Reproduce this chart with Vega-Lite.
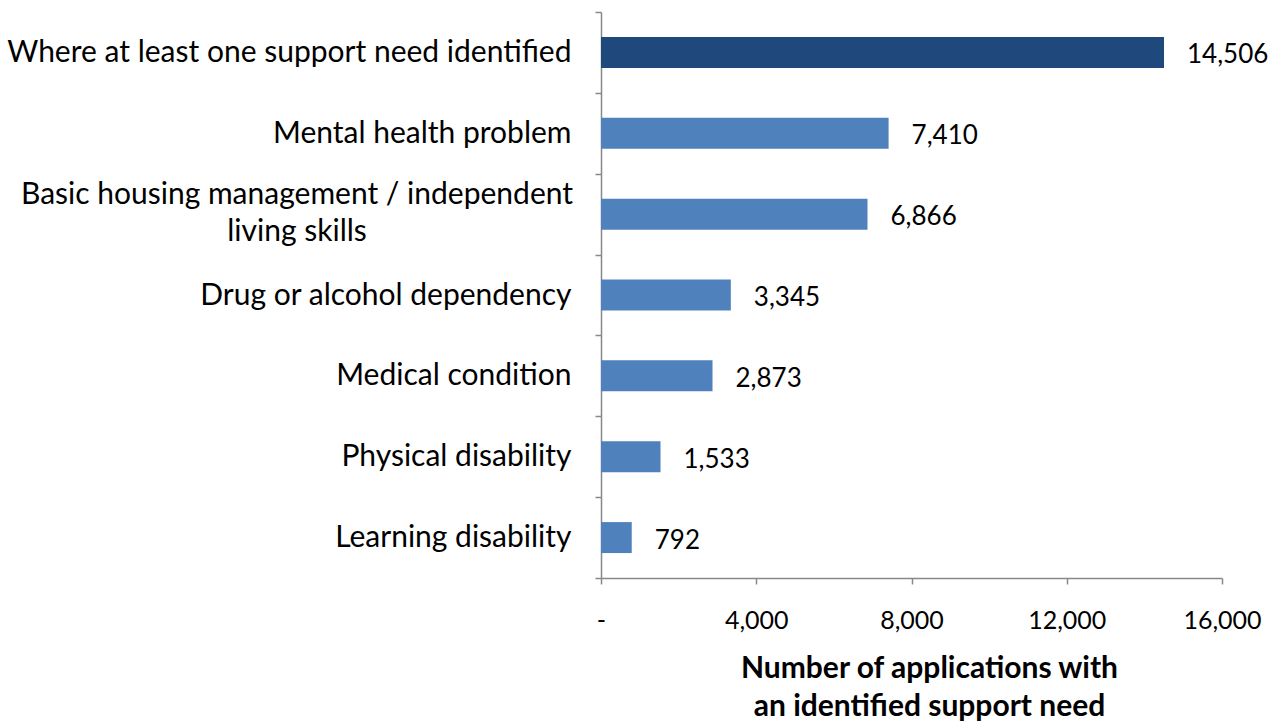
{
  "$schema": "https://vega.github.io/schema/vega-lite/v6.json",
  "width": 621,
  "height": 566,
  "autosize": "none",
  "padding": {"left": 601, "top": 12, "right": 58, "bottom": 144},
  "background": "white",
  "config": {
    "view": {"stroke": null},
    "font": "Lato",
    "axis": {
      "domainColor": "#888888",
      "tickColor": "#888888",
      "domainWidth": 1.5,
      "tickWidth": 1.5,
      "grid": false,
      "labelColor": "#000000",
      "labelFont": "Lato",
      "titleFont": "Lato",
      "titleColor": "#000000"
    }
  },
  "data": {
    "values": [
      {"category": "Where at least one support need identified", "value": 14506, "group": "total"},
      {"category": "Mental health problem", "value": 7410, "group": "need"},
      {"category": "Basic housing management / independent|living skills", "value": 6866, "group": "need"},
      {"category": "Drug or alcohol dependency", "value": 3345, "group": "need"},
      {"category": "Medical condition", "value": 2873, "group": "need"},
      {"category": "Physical disability", "value": 1533, "group": "need"},
      {"category": "Learning disability", "value": 792, "group": "need"}
    ]
  },
  "encoding": {
    "y": {
      "field": "category",
      "type": "nominal",
      "sort": null,
      "scale": {"paddingInner": 0, "paddingOuter": 0},
      "axis": {
        "title": null,
        "tickBand": "extent",
        "tickSize": 6,
        "labelFontSize": 30,
        "labelLimit": 800,
        "labelPadding": 24,
        "labelExpr": "indexof(datum.label, '|') >= 0 ? '' : datum.label"
      }
    },
    "x": {
      "field": "value",
      "type": "quantitative",
      "scale": {"domain": [0, 16000], "nice": false},
      "axis": {
        "values": [0, 4000, 8000, 12000, 16000],
        "labelExpr": "datum.value == 0 ? '-' : format(datum.value, ',')",
        "tickSize": 6,
        "labelPadding": 24,
        "labelFontSize": 25,
        "labelFlush": false,
        "labelOverlap": false,
        "title": ["Number of applications with", "an identified support need"],
        "titleFontSize": 30,
        "titleFontWeight": "bold",
        "titleLineHeight": 38,
        "titlePadding": 20,
        "titleX": 328
      }
    }
  },
  "layer": [
    {
      "mark": {"type": "bar", "height": {"band": 0.383}},
      "encoding": {
        "color": {
          "field": "group",
          "type": "nominal",
          "scale": {"domain": ["total", "need"], "range": ["#1F497D", "#4F81BD"]},
          "legend": null
        }
      }
    },
    {
      "mark": {"type": "text", "align": "left", "baseline": "middle", "dx": 23, "dy": 3, "fontSize": 26, "font": "Lato", "color": "#000000"},
      "encoding": {
        "text": {"field": "value", "type": "quantitative", "format": ","}
      }
    },
    {
      "transform": [{"filter": "indexof(datum.category, '|') >= 0"}],
      "mark": {"type": "text", "align": "center", "baseline": "middle", "dx": -304, "dy": -19, "lineBreak": "|", "lineHeight": 37, "fontSize": 30, "font": "Lato", "color": "#000000"},
      "encoding": {
        "x": {"datum": 0},
        "text": {"field": "category", "type": "nominal"}
      }
    }
  ]
}
